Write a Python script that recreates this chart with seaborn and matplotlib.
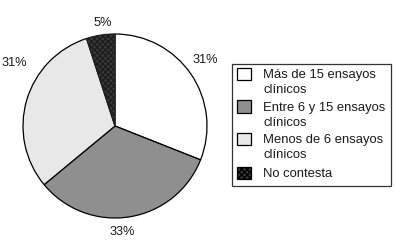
import matplotlib
matplotlib.use("Agg")
import numpy as np
import matplotlib.pyplot as plt
import seaborn as sns
from matplotlib.patches import Patch, Rectangle
from matplotlib.legend_handler import HandlerPatch

sns.set_style("white")
plt.rcParams['font.family'] = ['Liberation Sans', 'DejaVu Sans']

# data
categories = ["Más de 15 ensayos\nclínicos", "Entre 6 y 15 ensayos\nclínicos",
              "Menos de 6 ensayos\nclínicos", "No contesta"]
shares = [31, 33, 31, 5]
pct_labels = [f"{v}%" for v in shares]
colors = ["#ffffff", "#8f8f8f", "#e8e8e8", "#3a3a3a"]

# label placement tweaks (degrees off wedge middle, radius)
label_nudge = [2, -5, -16, -2]
label_dist = [1.21, 1.15, 1.29, 1.13]

FS = 9.2
LFS = 9.4
LS = 1.3
fig = plt.figure(figsize=(3.95, 2.44), dpi=100)
fig.patch.set_facecolor("white")
ax = fig.add_axes([(115 - 92) / 395, (244 - 126 - 92) / 244, 184 / 395, 184 / 244])

wedges, texts = ax.pie(shares, labels=pct_labels, colors=colors, startangle=90,
                       counterclock=False,
                       wedgeprops=dict(edgecolor="black", linewidth=0.9),
                       textprops=dict(fontsize=FS, color="#1a1a1a"))
wedges[3].set_hatch("xxxxxx")
wedges[3].set_edgecolor("#1e1e1e")
for w, t, dth, r in zip(wedges, texts, label_nudge, label_dist):
    ang = np.deg2rad((w.theta1 + w.theta2) / 2 + dth)
    t.set_position((r * np.cos(ang), r * np.sin(ang)))
    t.set_horizontalalignment("center")
    t.set_verticalalignment("center")
ax.set_xlim(-1, 1)
ax.set_ylim(-1, 1)
ax.set_aspect("equal")


# legend squares sit next to the first line of each label
def square_at(shift):
    def make(legend, orig_handle, xdescent, ydescent, width, height, fontsize):
        return Rectangle((-xdescent, -ydescent + shift), width, height)
    return make


handles = [Patch(facecolor=c, edgecolor="black", linewidth=0.9) for c in colors]
handles[3].set_hatch("xxxxxx")
handler_map = {}
for h, lab in zip(handles, categories):
    n = lab.count("\n")
    handler_map[h] = HandlerPatch(patch_func=square_at(n * 0.5 * LFS * 1.1 * LS / 1.05))

leg = fig.legend(handles, categories, loc="upper left", handler_map=handler_map,
                 bbox_to_anchor=(232 / 395, 1 - 64 / 244), fontsize=LFS,
                 frameon=True, fancybox=False, handlelength=1.06, handleheight=1.06,
                 labelspacing=0.44, handletextpad=0.93, borderpad=0.42,
                 borderaxespad=0)
leg.get_frame().set_edgecolor("black")
leg.get_frame().set_linewidth(0.9)
for t in leg.get_texts():
    t.set_color("#1a1a1a")
    t.set_linespacing(LS)

fig.savefig("out.png", dpi=100)
